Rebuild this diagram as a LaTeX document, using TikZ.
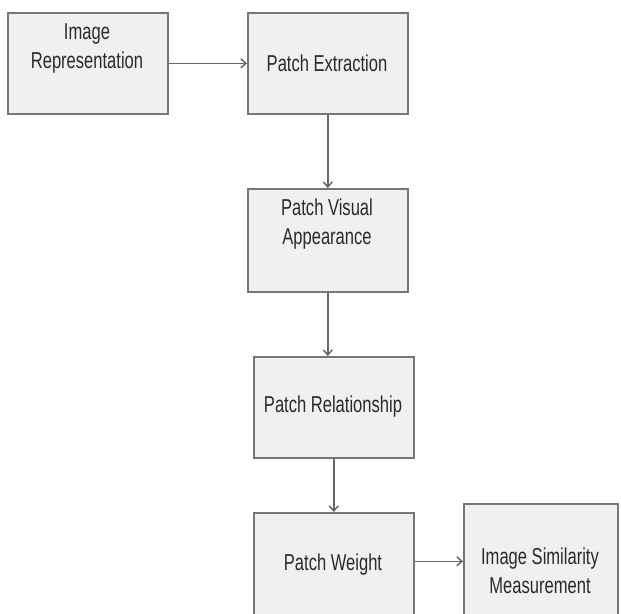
\documentclass[tikz,border=0pt]{standalone}
\usepackage{fontspec}
\setmainfont[FakeStretch=0.72]{Liberation Sans}
\usetikzlibrary{arrows.meta}
\definecolor{boxfill}{HTML}{F0F0F0}
\definecolor{boxline}{HTML}{767676}
\definecolor{txt}{HTML}{2A2A2A}
\definecolor{arrowc}{HTML}{666666}
\begin{document}
\begin{tikzpicture}[x=1pt,y=-1pt,
  box/.style={draw=boxline, fill=boxfill, line width=1.6pt, inner sep=0pt, anchor=north west, minimum width=160pt, minimum height=101pt},
  lbl/.style={text=txt, font=\fontsize{23}{29}\selectfont, align=center, inner sep=0pt},
  conn/.style={draw=arrowc, line width=1.5pt, -{Straight Barb[length=5pt,width=9pt]}}]
\useasboundingbox (0,0) rectangle (621,613);
\fill[white] (0,0) rectangle (621,613);
\node[box] (b1) at (7,12) {};
\node[box] (b2) at (247,12) {};
\node[box, minimum height=103pt] (b3) at (247,188) {};
\node[box] (b4) at (253,356) {};
\node[box, minimum height=103pt] (b5) at (253,512) {};
\node[box, minimum width=154pt, minimum height=115pt] (b6) at (463,503) {};
\node[lbl] (t1) at (87,48) {Image\\Representation};
\node[lbl] (t2) at (327,63) {Patch Extraction};
\node[lbl] (t3) at (327,224) {Patch Visual\\Appearance};
\node[lbl] (t4) at (333,407) {Patch Relationship};
\node[lbl] (t5) at (333,565) {Patch Weight};
\node[lbl] (t6) at (540,571) {Image Similarity\\Measurement};
\draw[conn] (b1) -- (b2);
\draw[conn] (b2) -- (b3);
\draw[conn] (b3.south) -- (b3.south |- b4.north);
\draw[conn] (b4) -- (b5);
\coordinate (w) at ([yshift=3pt]b5.east);
\draw[conn] (w) -- (w -| b6.west);
\end{tikzpicture}
\end{document}
